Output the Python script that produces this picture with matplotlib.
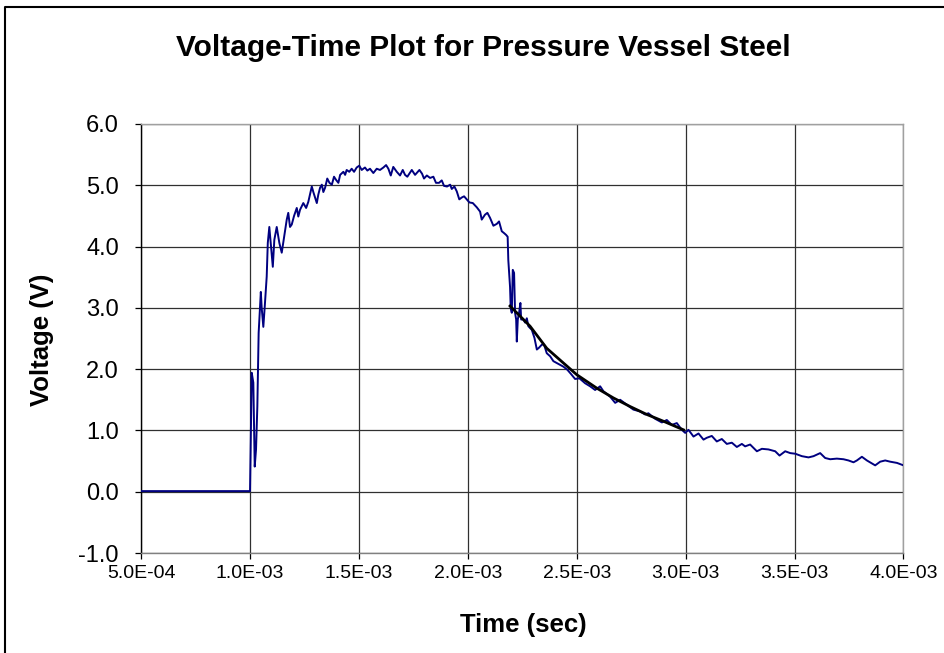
import matplotlib
matplotlib.use("Agg")
import matplotlib.pyplot as plt
from matplotlib.lines import Line2D
from matplotlib.ticker import FixedLocator, FixedFormatter

plt.rcParams['font.family'] = ['Liberation Sans', 'DejaVu Sans']

# ---- data (time in ms, voltage in V) ----
time_ms = [
    0.500, 0.600, 0.700, 0.800, 0.900, 1.000,
    1.0005, 1.003, 1.0083, 1.0156, 1.022, 1.028, 1.034, 1.040, 1.050, 1.054,
    1.0615, 1.068, 1.077, 1.082, 1.089, 1.097, 1.105, 1.112, 1.123, 1.135,
    1.146, 1.157, 1.169, 1.176, 1.184, 1.192, 1.2025, 1.215, 1.222, 1.230,
    1.245, 1.258, 1.268, 1.284, 1.291, 1.299, 1.307, 1.314, 1.322, 1.330,
    1.337, 1.345, 1.355, 1.365, 1.376, 1.386, 1.395, 1.406, 1.414, 1.429,
    1.437, 1.444, 1.456, 1.467, 1.478, 1.490, 1.502, 1.513, 1.528, 1.539,
    1.551, 1.5665, 1.582, 1.597, 1.6125, 1.625, 1.6355, 1.6465, 1.658, 1.674,
    1.689, 1.7015, 1.712, 1.7225, 1.743, 1.758, 1.778, 1.790, 1.799, 1.812,
    1.827, 1.842, 1.854, 1.868, 1.8805, 1.891, 1.905, 1.919, 1.9265, 1.9385,
    1.9495, 1.961, 1.972, 1.983, 1.9955, 2.0075, 2.023, 2.0415, 2.0565, 2.064,
    2.079, 2.090, 2.102, 2.1175, 2.133, 2.1435, 2.156, 2.1665, 2.176, 2.183,
    2.186, 2.194, 2.197, 2.202, 2.2065, 2.2125, 2.217, 2.222, 2.225, 2.2295,
    2.2355, 2.2415, 2.245, 2.2555, 2.263, 2.271, 2.278, 2.294, 2.306, 2.317,
    2.327, 2.340, 2.350, 2.3625, 2.378, 2.393, 2.4085, 2.424, 2.439, 2.457,
    2.474, 2.4925, 2.5125, 2.5385, 2.5615, 2.5845, 2.6075, 2.6225, 2.6535, 2.6765,
    2.6995, 2.730, 2.760, 2.791, 2.814, 2.829, 2.860, 2.891, 2.9135, 2.9365,
    2.9595, 2.9825, 2.998, 3.013, 3.036, 3.059, 3.082, 3.097, 3.120, 3.143,
    3.166, 3.189, 3.212, 3.235, 3.258, 3.273, 3.296, 3.327, 3.350, 3.380,
    3.411, 3.431, 3.457, 3.480, 3.503, 3.5335, 3.564, 3.587, 3.6175, 3.6405,
    3.6635, 3.694, 3.7245, 3.7475, 3.7705, 3.786, 3.809, 3.832, 3.870, 3.893,
    3.916, 3.939, 3.970, 4.000,
]
voltage = [
    0.01, 0.01, 0.01, 0.01, 0.01, 0.01,
    0.02, 0.64, 1.94, 1.78, 0.41, 0.69, 1.39, 2.59, 3.26, 3.00,
    2.69, 3.02, 3.51, 4.06, 4.32, 4.00, 3.67, 4.11, 4.32, 4.06,
    3.90, 4.16, 4.44, 4.55, 4.32, 4.36, 4.50, 4.63, 4.49, 4.60,
    4.71, 4.63, 4.73, 4.98, 4.89, 4.80, 4.71, 4.85, 4.96, 5.01,
    4.89, 4.96, 5.11, 5.04, 5.01, 5.14, 5.09, 5.04, 5.17, 5.22,
    5.17, 5.25, 5.22, 5.27, 5.22, 5.29, 5.32, 5.25, 5.29, 5.24,
    5.27, 5.20, 5.27, 5.25, 5.29, 5.33, 5.27, 5.16, 5.30, 5.22,
    5.16, 5.25, 5.17, 5.14, 5.25, 5.17, 5.25, 5.19, 5.11, 5.16,
    5.12, 5.14, 5.04, 5.04, 5.08, 4.99, 4.98, 5.01, 4.94, 4.98,
    4.90, 4.77, 4.80, 4.82, 4.77, 4.72, 4.71, 4.64, 4.57, 4.44,
    4.52, 4.55, 4.47, 4.34, 4.37, 4.41, 4.25, 4.22, 4.19, 4.16,
    3.78, 3.34, 3.00, 2.92, 3.62, 3.57, 2.92, 2.81, 2.45, 2.81,
    2.92, 3.08, 2.81, 2.81, 2.76, 2.83, 2.70, 2.64, 2.51, 2.32,
    2.35, 2.40, 2.40, 2.26, 2.21, 2.13, 2.10, 2.07, 2.04, 1.99,
    1.92, 1.84, 1.85, 1.77, 1.72, 1.66, 1.72, 1.64, 1.55, 1.45,
    1.50, 1.42, 1.34, 1.31, 1.26, 1.28, 1.19, 1.13, 1.17, 1.09,
    1.12, 1.01, 0.96, 1.01, 0.90, 0.95, 0.85, 0.88, 0.91, 0.82,
    0.86, 0.78, 0.80, 0.73, 0.78, 0.74, 0.77, 0.66, 0.70, 0.69,
    0.66, 0.59, 0.66, 0.63, 0.62, 0.58, 0.56, 0.58, 0.63, 0.55,
    0.53, 0.54, 0.53, 0.51, 0.48, 0.51, 0.57, 0.51, 0.43, 0.49,
    0.51, 0.49, 0.47, 0.43,
]

fit_time_ms = [2.194, 2.286, 2.3625, 2.439, 2.500, 2.592, 2.6685, 2.745, 2.822, 2.898, 2.990]
fit_voltage = [3.03, 2.70, 2.34, 2.10, 1.91, 1.69, 1.53, 1.39, 1.26, 1.15, 1.01]

x_ticks = [5.0e-4, 1.0e-3, 1.5e-3, 2.0e-3, 2.5e-3, 3.0e-3, 3.5e-3, 4.0e-3]
x_tick_labels = ["5.0E-04", "1.0E-03", "1.5E-03", "2.0E-03", "2.5E-03", "3.0E-03", "3.5E-03", "4.0E-03"]
y_ticks = [-1.0, 0.0, 1.0, 2.0, 3.0, 4.0, 5.0, 6.0]
y_tick_labels = ["-1.0", "0.0", "1.0", "2.0", "3.0", "4.0", "5.0", "6.0"]

title = "Voltage-Time Plot for Pressure Vessel Steel"
x_label = "Time (sec)"
y_label = "Voltage (V)"

# ---- figure ----
W, H = 945, 653
fig = plt.figure(figsize=(W / 100, H / 100), dpi=100)
ax = fig.add_axes([141 / W, 1 - 553 / H, (903.5 - 141) / W, (553 - 124) / H])

t = [v * 1e-3 for v in time_ms]
ft = [v * 1e-3 for v in fit_time_ms]
ax.plot(t, voltage, color='#000080', lw=1.4, zorder=3)
ax.plot(ft, fit_voltage, color='black', lw=2.0, zorder=4)

ax.set_xlim(x_ticks[0], x_ticks[-1])
ax.set_ylim(y_ticks[0], y_ticks[-1])
ax.xaxis.set_major_locator(FixedLocator(x_ticks))
ax.xaxis.set_major_formatter(FixedFormatter(x_tick_labels))
ax.yaxis.set_major_locator(FixedLocator(y_ticks))
ax.yaxis.set_major_formatter(FixedFormatter(y_tick_labels))

ax.grid(True, color='#303030', lw=0.9, zorder=1)
ax.set_axisbelow(True)

for s in ['top', 'right']:
    ax.spines[s].set_color('#a0a0a0')
    ax.spines[s].set_linewidth(1.0)
ax.spines['left'].set_color('black')
ax.spines['bottom'].set_color('#808080')
for s in ['left', 'bottom']:
    ax.spines[s].set_linewidth(1.0)

ax.tick_params(axis='y', direction='out', length=4, width=0.9, pad=12, labelsize=17, colors='black')
ax.tick_params(axis='x', direction='out', length=4, width=0.9, pad=5, labelsize=14, colors='black')

fig.text(483 / W, 1 - 48 / H, title, ha='center', va='center', fontsize=21.5, fontweight='bold')
fig.text(523 / W, 1 - 625 / H, x_label, ha='center', va='center', fontsize=18.5, fontweight='bold')
fig.text(42 / W, 1 - 340 / H, y_label, ha='center', va='center', rotation=90, fontsize=18.5, fontweight='bold')

# outer chart border (top and left edges visible)
fig.add_artist(Line2D([5.5 / W, 5.5 / W, 1.0], [0.0, 1 - 7 / H, 1 - 7 / H],
                      transform=fig.transFigure, color='black', lw=1.5))

fig.savefig("out.png", dpi=100)
